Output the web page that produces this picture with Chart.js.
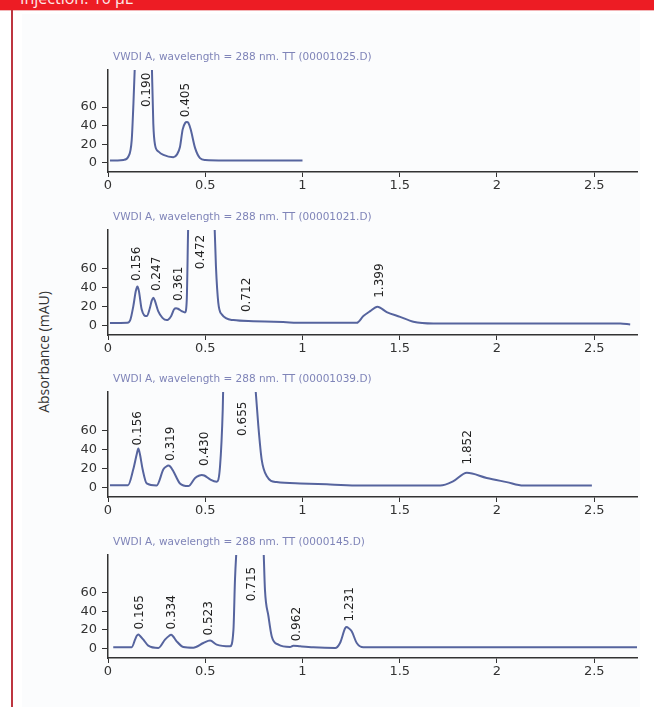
<!DOCTYPE html>
<html>
<head>
<meta charset="utf-8">
<script src="https://cdn.jsdelivr.net/npm/chart.js@4.4.1/dist/chart.umd.min.js"></script>
<style>
  body { margin: 0; background: #fff; }
  #page { position: relative; width: 654px; height: 707px; overflow: hidden; background: #fff; }
  #band { position: absolute; left: 0; top: 0; width: 654px; height: 10px; background: #ed1c24; overflow: hidden; border-bottom: 1px solid #f3b5b7; }
  #band span { position: absolute; left: 20px; top: -10px; font: 16px/16px 'Open Sans', sans-serif; color: #fde8e8; white-space: nowrap; }
  #rule { position: absolute; left: 11px; top: 10px; width: 2px; height: 697px; background: #bd3540; }
  #panel { position: absolute; left: 22px; top: 14px; width: 618px; height: 693px; background: #fbfcfd; }
  #ylabel { position: absolute; left: 43px; top: 352px; transform: translate(-50%, -50%) rotate(-90deg);
            font: 14px 'Open Sans', sans-serif; color: #333; white-space: nowrap; }
  canvas { position: absolute; left: 0; }
</style>
</head>
<body>
<div id="page">
  <div id="band"><span>Injection: 10 µL</span></div>
  <div id="rule"></div>
  <div id="panel"></div>
  <div id="ylabel">Absorbance (mAU)</div>
  <canvas id="c1"></canvas>
  <canvas id="c2"></canvas>
  <canvas id="c3"></canvas>
  <canvas id="c4"></canvas>
</div>
<script>
// axis ticks
const xTicks = [0, 0.5, 1, 1.5, 2, 2.5];
const yTicks = [0, 20, 40, 60];

const titles = [
  'VWDI A, wavelength = 288 nm. TT (00001025.D)',
  'VWDI A, wavelength = 288 nm. TT (00001021.D)',
  'VWDI A, wavelength = 288 nm. TT (00001039.D)',
  'VWDI A, wavelength = 288 nm. TT (0000145.D)'
];

// trace 1 (min, mAU)
const p1Time = [0.01, 0.05, 0.08, 0.105, 0.122, 0.13, 0.139, 0.15, 0.19, 0.215, 0.225, 0.233, 0.242, 0.26, 0.285,
  0.336, 0.355, 0.37, 0.384, 0.397, 0.405, 0.413, 0.425, 0.448, 0.473, 0.5, 0.6, 0.8, 1.0];
const p1Abs = [2.5, 2.5, 3, 6.7, 24.6, 60, 110, 200, 300, 200, 110, 42, 19, 12, 8.5,
  6, 9, 17, 36, 43, 44, 43, 36, 15.7, 5, 3, 2.5, 2.5, 2.5];

// trace 2
const p2Time = [0.01, 0.1, 0.115, 0.13, 0.143, 0.151, 0.159, 0.173, 0.199, 0.215, 0.225, 0.233, 0.241, 0.258, 0.28,
  0.302, 0.325, 0.34, 0.35, 0.36, 0.379, 0.396, 0.405, 0.413, 0.48, 0.547, 0.555, 0.567, 0.585, 0.645, 0.747,
  0.9, 1.0, 1.14, 1.279, 1.313, 1.348, 1.385, 1.433, 1.502, 1.57, 1.673, 2.0, 2.634, 2.685];
const p2Abs = [2.5, 2.8, 6, 20, 36, 40.7, 36, 17, 9.8, 18, 26, 29, 26, 15, 8,
  5.6, 10, 17, 18, 17.5, 15, 13.6, 27, 110, 300, 110, 62, 24, 11.6, 5.6, 4.5,
  3.5, 2.8, 2.8, 2.8, 9.8, 15, 19.7, 14, 9, 3.9, 2.1, 2.1, 2.1, 1];

// trace 3
const p3Time = [0.01, 0.103, 0.13, 0.148, 0.156, 0.164, 0.178, 0.199, 0.25, 0.285, 0.3, 0.31, 0.32, 0.336, 0.37,
  0.413, 0.448, 0.47, 0.482, 0.495, 0.525, 0.559, 0.576, 0.59, 0.593, 0.67, 0.756, 0.773, 0.79, 0.816, 0.867,
  0.988, 1.142, 1.296, 1.708, 1.776, 1.845, 1.947, 2.05, 2.136, 2.488];
const p3Abs = [2.4, 2.4, 19, 35, 40.7, 35, 19, 4.2, 2, 19, 22, 23, 22, 17, 4.2,
  1.4, 10, 12.5, 13, 12.5, 8.4, 6, 22, 82, 110, 300, 110, 64.5, 29.5, 12, 5.6,
  4.2, 3.2, 2, 2, 6.6, 15.4, 10, 5.6, 2, 2];

// trace 4
const p4Time = [0.027, 0.122, 0.139, 0.148, 0.156, 0.164, 0.182, 0.207, 0.259, 0.293, 0.315, 0.324, 0.333, 0.353, 0.387,
  0.439, 0.49, 0.525, 0.559, 0.628, 0.645, 0.653, 0.662, 0.73, 0.799, 0.807, 0.825, 0.842, 0.876, 0.936, 0.953,
  0.988, 1.056, 1.168, 1.193, 1.22, 1.228, 1.236, 1.253, 1.279, 1.313, 2.0, 2.74];
const p4Abs = [1.5, 1.5, 9.6, 13.8, 15, 13.8, 9.6, 3.2, 0.7, 9.6, 13.8, 14.7, 13.5, 7.8, 1.8,
  1, 6, 8.6, 4.3, 2.5, 20, 74, 110, 300, 110, 63, 34.6, 13, 4.3, 1.8, 3.2,
  2.5, 1.4, 0.7, 6, 22, 23, 22, 18.6, 6, 1.4, 1.4, 1.4];

// peak annotations: text, x where the label sits, y where the label starts
const p1PeakText = ['0.190', '0.405'];
const p1PeakX = [0.2, 0.401];
const p1PeakY = [60, 49];
const p2PeakText = ['0.156', '0.247', '0.361', '0.472', '0.712', '1.399'];
const p2PeakX = [0.147, 0.25, 0.362, 0.478, 0.713, 1.399];
const p2PeakY = [46.6, 36, 25.6, 59, 14, 29];
const p3PeakText = ['0.156', '0.319', '0.430', '0.655', '1.852'];
const p3PeakX = [0.156, 0.322, 0.499, 0.691, 1.852];
const p3PeakY = [44, 27.7, 22.4, 54, 24];
const p4PeakText = ['0.165', '0.334', '0.523', '0.715', '0.962', '1.231'];
const p4PeakX = [0.165, 0.327, 0.521, 0.739, 0.97, 1.245];
const p4PeakY = [20.4, 20.4, 14, 50.7, 7.8, 29];

const AXIS = '#333';
const TRACE = '#56649e';

// draws the panel title and the rotated retention time labels
const peakLabels = {
  id: 'peakLabels',
  afterDatasetsDraw(chart, args, opts) {
    const { ctx, chartArea, scales } = chart;
    ctx.save();
    ctx.fillStyle = '#7f84b8';
    ctx.font = '10.5px "DejaVu Sans"';
    ctx.textBaseline = 'middle';
    ctx.textAlign = 'left';
    ctx.fillText(opts.title, chartArea.left + 5, chartArea.top - 13);

    ctx.fillStyle = '#222';
    ctx.font = '12px "DejaVu Sans"';
    opts.text.forEach((t, i) => {
      ctx.save();
      ctx.translate(scales.x.getPixelForValue(opts.xs[i]), scales.y.getPixelForValue(opts.ys[i]));
      ctx.rotate(-Math.PI / 2);
      ctx.fillText(t, 0, 0);
      ctx.restore();
    });
    ctx.restore();
  }
};

function makePanel(id, top, height, time, abs, title, text, xs, ys) {
  const cv = document.getElementById(id);
  cv.width = 654;
  cv.height = height + 30 + 28;
  cv.style.top = (top - 30) + 'px';

  return new Chart(cv, {
    type: 'line',
    data: {
      datasets: [{
        data: time.map((t, i) => ({ x: t, y: abs[i] })),
        borderColor: TRACE,
        borderWidth: 2,
        pointRadius: 0,
        cubicInterpolationMode: 'monotone',
        fill: false
      }]
    },
    options: {
      responsive: false,
      animation: false,
      devicePixelRatio: 1,
      layout: { padding: { left: 0, right: 17, top: 30, bottom: 0 } },
      plugins: {
        legend: { display: false },
        tooltip: { enabled: false },
        peakLabels: { title: title, text: text, xs: xs, ys: ys }
      },
      scales: {
        x: {
          type: 'linear',
          min: 0,
          max: 2.72,
          afterBuildTicks: (s) => { s.ticks = xTicks.map(v => ({ value: v })); },
          afterFit: (s) => { s.height = 28; },
          grid: { drawOnChartArea: false, tickLength: 5, color: AXIS },
          border: { color: AXIS, width: 1.5 },
          ticks: {
            color: AXIS,
            font: { family: 'DejaVu Sans', size: 13 },
            padding: 1,
            maxRotation: 0,
            autoSkip: false,
            callback: (v) => String(v)
          }
        },
        y: {
          min: -10,
          max: 100,
          afterBuildTicks: (s) => { s.ticks = yTicks.map(v => ({ value: v })); },
          afterFit: (s) => { s.width = 108; },
          grid: { drawOnChartArea: false, tickLength: 6, color: AXIS },
          border: { color: AXIS, width: 1.5 },
          ticks: {
            color: AXIS,
            font: { family: 'DejaVu Sans', size: 13 },
            padding: 5,
            callback: (v) => String(v)
          }
        }
      }
    },
    plugins: [peakLabels]
  });
}

makePanel('c1', 70, 102, p1Time, p1Abs, titles[0], p1PeakText, p1PeakX, p1PeakY);
makePanel('c2', 230, 105, p2Time, p2Abs, titles[1], p2PeakText, p2PeakX, p2PeakY);
makePanel('c3', 392, 105, p3Time, p3Abs, titles[2], p3PeakText, p3PeakX, p3PeakY);
makePanel('c4', 555, 103, p4Time, p4Abs, titles[3], p4PeakText, p4PeakX, p4PeakY);
</script>
</body>
</html>
